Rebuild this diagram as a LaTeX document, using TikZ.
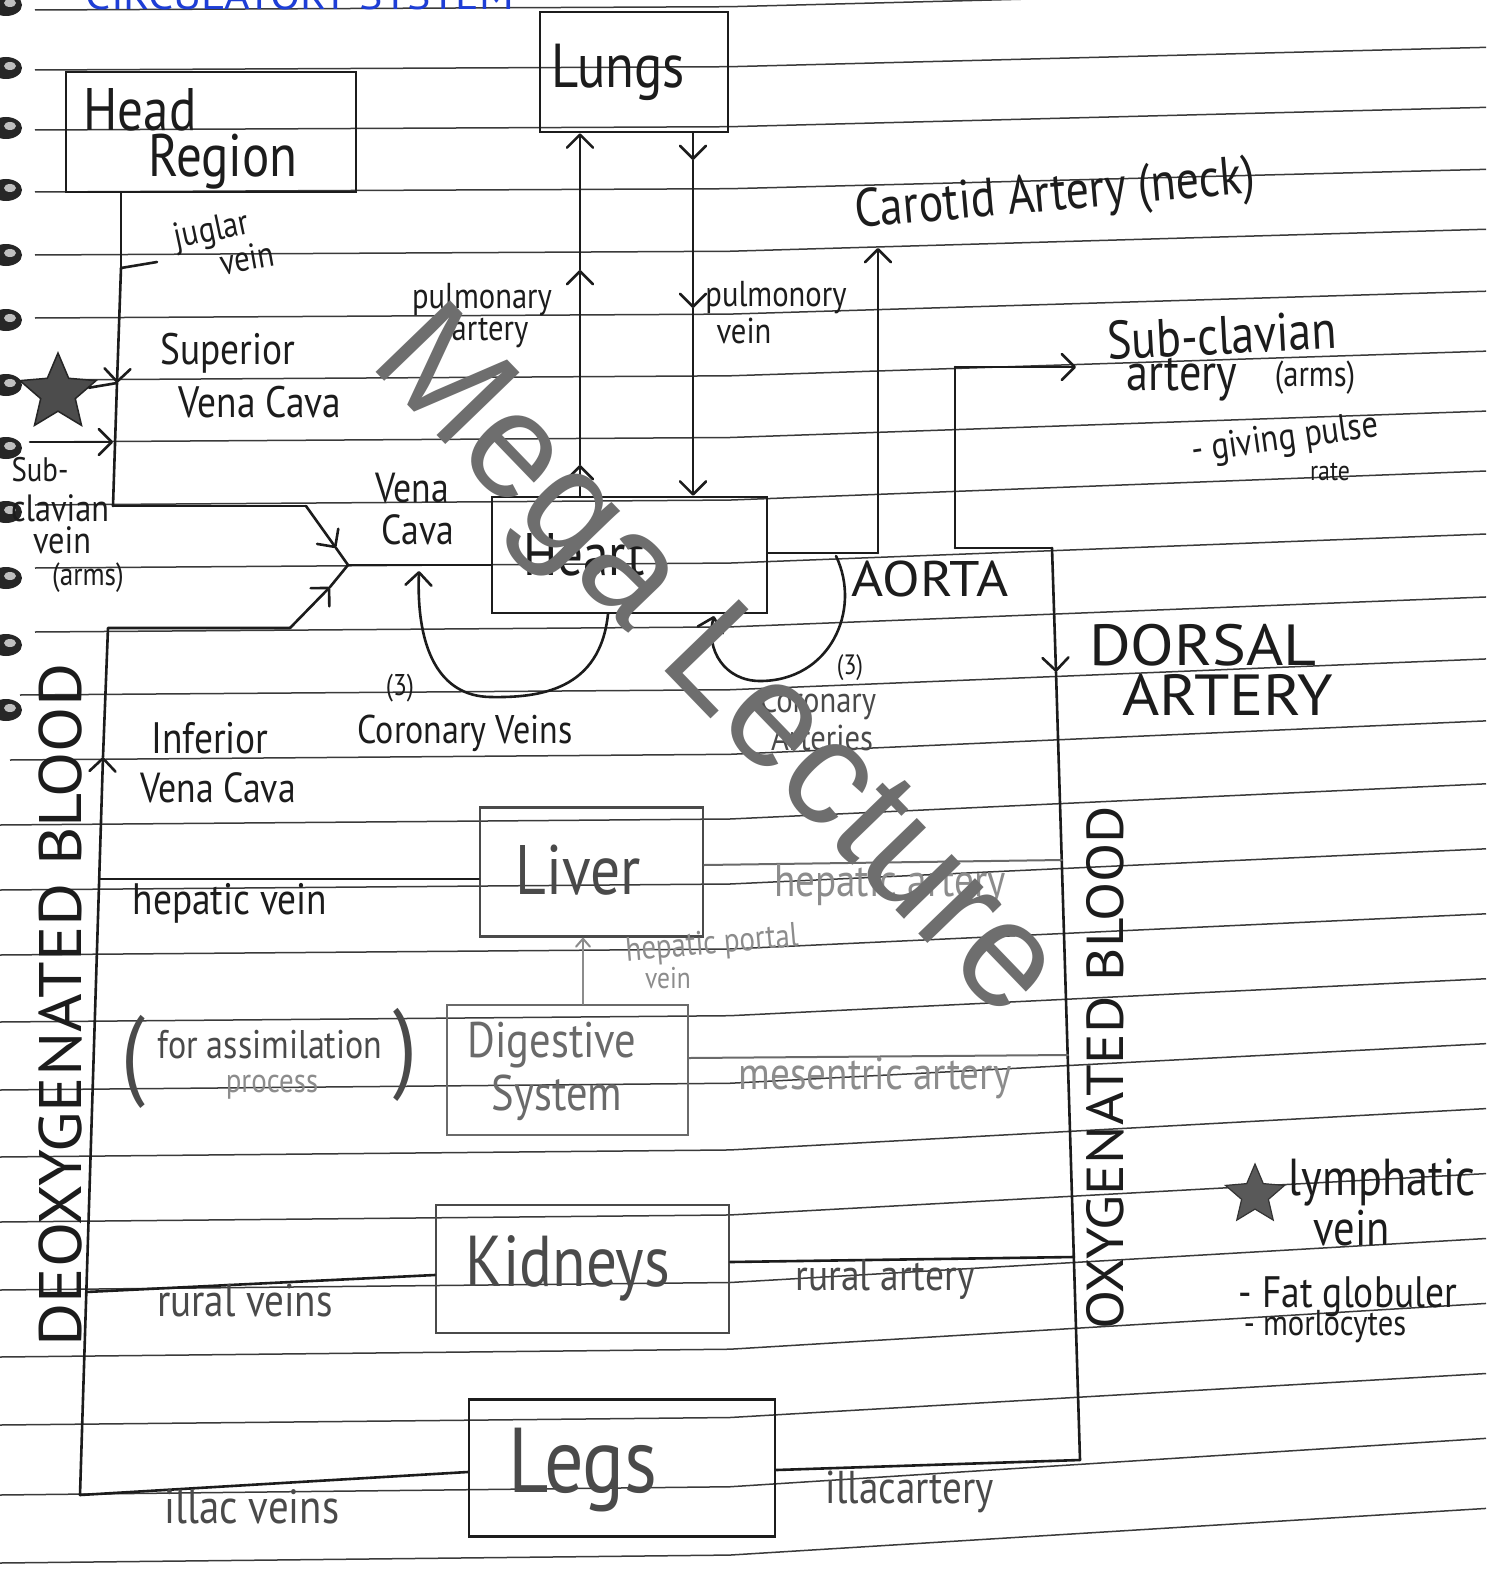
\documentclass[tikz,border=0pt]{standalone}
\usepackage{fontspec}
\setmainfont{PT Sans}[FakeStretch=0.85]
\newfontfamily\capsf{PT Sans}[FakeStretch=1.1]
\newfontfamily\wmf{Liberation Sans}
\usetikzlibrary{arrows.meta,calc,shapes.geometric}
\newcommand{\fsz}[1]{\fontsize{#1}{#1}\selectfont}
\definecolor{inkc}{HTML}{1C1C1C}
\definecolor{pen1}{HTML}{4A4A4A}
\definecolor{pen2}{HTML}{6A6A6A}
\definecolor{pen3}{HTML}{8C8C8C}
\definecolor{rulec}{HTML}{3A3A3A}
\definecolor{titleblue}{HTML}{1E3ED6}
\definecolor{wmark}{HTML}{6E6E6E}
\begin{document}
\begin{tikzpicture}[x=1pt,y=-1pt,
  ink/.style={draw=inkc,line width=2.6pt,line cap=round,line join=round},
  pen/.style={draw=pen2,line width=2pt,line cap=round},
  rule/.style={draw=rulec,line width=1.5pt},
  tip/.style={-{Straight Barb[length=13pt,width=26pt,round]}},
  smalltip/.style={-{Straight Barb[length=8pt,width=14pt,round]}},
  box/.style={draw=inkc,line width=2.6pt,inner sep=0pt},
  pbox/.style={draw=pen1,line width=2.4pt,inner sep=0pt},
  lbl/.style={inner sep=0pt,text=inkc,align=center},
]
\useasboundingbox (0,0) rectangle (1486,1573);
\fill[white] (0,0) rectangle (1486,1573);
\clip (0,0) rectangle (1486,1573);

% ruled notebook lines
\foreach \s/\L/\R in {35/10/-12,35/70/48,35/130/108,35/192/170,35/255/230,35/318/292,35/380/352,35/442/412,35/505/472,35/568/535,35/632/598,20/695/660,10/760/722,0/825/785,0/890/850,0/955/915,0/1022/980,0/1090/1045,0/1157/1110,0/1222/1175,0/1290/1240,0/1357/1305,0/1425/1375,0/1495/1440,0/1563/1510}
  {\draw[rule] (\s,\L) -- (730,{\L-0.15*(\L-\R)}) -- (1486,{\R-0.03*(\L-\R)});}

% spiral binding
\foreach \yy in {5,68,128,190,255,320,385,448,512,578,645,710}
  {\fill[black!85] (6,\yy) ellipse (16pt and 11pt);
   \fill[black!25] (10,{\yy-2}) ellipse (6pt and 4pt);}

% title (cut off at top)
\node[anchor=base,inner sep=0pt,text=titleblue,font=\capsf\fsz{40}] (title) at (300,10) {CIRCULATORY SYSTEM};

% boxes
\node[box,minimum width=188pt,minimum height=120pt] (lungs) at (634,72) {};
\node[box,minimum width=290pt,minimum height=120pt] (head) at (211,132) {};
\node[box,minimum width=275pt,minimum height=116pt] (heart) at (629.5,555) {};
\node[pbox,minimum width=223pt,minimum height=129pt] (liver) at (591.5,872) {};
\node[pbox,draw=pen2,minimum width=241pt,minimum height=130pt] (dig) at (567.5,1070) {};
\node[pbox,minimum width=293pt,minimum height=128pt] (kid) at (582.5,1269) {};
\node[box,minimum width=306pt,minimum height=137pt] (legs) at (622,1468) {};

\node[lbl,font=\fsz{62}] (tLungs) at (618,72) {Lungs};
\node[lbl,font=\fsz{60}] (tHead) at (140,110) {Head};
\node[lbl,font=\fsz{60}] (tRegion) at (223,162) {Region};
\node[lbl,font=\fsz{60}] (tHeart) at (584,555) {Heart};
\node[lbl,text=pen1,font=\fsz{70}] (tLiver) at (578,870) {Liver};
\node[lbl,text=pen2,font=\fsz{50}] (tDig) at (552,1045) {Digestive};
\node[lbl,text=pen2,font=\fsz{50}] (tSys) at (557,1098) {System};
\node[lbl,text=pen1,font=\fsz{72}] (tKid) at (568,1268) {Kidneys};
\node[lbl,text=pen1,font=\fsz{92}] (tLegs) at (583,1470) {Legs};

% pulmonary artery (up) and vein (down)
\coordinate (pa1) at (580,465); \coordinate (pa2) at (580,270);
\draw[ink,tip] (pa1 |- heart.north) -- (pa1);
\draw[ink,tip] (pa1) -- (pa2);
\draw[ink,tip] (pa2) -- (pa2 |- lungs.south);
\coordinate (pv1) at (693,160); \coordinate (pv2) at (693,308);
\draw[ink,tip] (pv1 |- lungs.south) -- (pv1);
\draw[ink,tip] (pv1) -- (pv2);
\draw[ink,tip] (pv2) -- (pv2 |- heart.north);

% superior vena cava system
\coordinate (jv) at (121,268); \coordinate (jvt) at (157,262);
\coordinate (svcA) at (117,383); \coordinate (svcB) at (113,506);
\draw[ink] (head.south -| jv) -- (jv);
\draw[ink] (jv) -- (jvt);
\draw[ink,tip] (jv) -- (svcA);
\draw[ink] (svcA) -- (svcB);
\node[star,star points=5,star point ratio=2.2,fill=black!70,draw=black!85,line width=1.5pt,minimum size=80pt,inner sep=0pt] (star1) at (58,393) {};
\draw[ink] (star1) -- (svcA);
\coordinate (scv) at (30,442);
\draw[ink,tip] (scv) -- (scv -| svcB);

\coordinate (ybr) at (306,506); \coordinate (yj) at (348,565);
\coordinate (ya1) at (336,548); \coordinate (ya2) at (330,587);
\coordinate (ivct) at (290,628); \coordinate (ivcl) at (108,628);
\coordinate (ivcA) at (103,757); \coordinate (ivcB) at (80,1495);
\draw[ink] (svcB) -- (ybr);
\draw[ink,tip] (ybr) -- (ya1); \draw[ink] (ya1) -- (yj);
\draw[ink,tip] (ivct) -- (ya2); \draw[ink] (ya2) -- (yj);
\draw[ink] (yj) -- (yj -| heart.west);
\draw[ink] (ivct) -- (ivcl) -- (ivcA);
\draw[ink,tip] (ivcB) -- (ivcA);

% veins to the organs
\coordinate (hv) at (100,879);
\draw[ink] (hv) -- (hv -| liver.west);
\coordinate (rv) at (86,1292);
\draw[ink] (rv) -- ($(kid.west)+(0,6)$);
\draw[ink] (ivcB) -- ($(legs.west)+(0,4)$);

% aorta system
\coordinate (ao1) at (878,553); \coordinate (ca) at (878,248);
\coordinate (ao2) at (955,548); \coordinate (sc1) at (955,367); \coordinate (sc2) at (1076,367);
\coordinate (rt) at (1052,548); \coordinate (da) at (1056,672); \coordinate (rtb) at (1080,1460);
\coordinate (ha) at (1062,860); \coordinate (me) at (1068,1055); \coordinate (ra) at (1074,1257);
\draw[ink] ($(heart.east)+(0,-2)$) -- (ao1);
\draw[ink,tip] (ao1) -- (ca);
\draw[ink] (ao2) -- (rt);
\draw[ink] (ao2) -- (sc1);
\draw[ink,tip] (sc1) -- (sc2);
\draw[ink,tip] (rt) -- (da);
\draw[ink] (da) -- (rtb);
\draw[pen] ($(liver.east)+(0,-7)$) -- (ha);
\draw[pen] ($(dig.east)+(0,-12)$) -- (me);
\draw[ink] ($(kid.east)+(0,-7)$) -- (ra);
\draw[ink] ($(legs.east)+(0,2)$) -- (rtb);

% hepatic portal vein
\coordinate (hp) at (583,970);
\draw[pen,smalltip,draw=pen3] (hp |- dig.north) -- (hp |- liver.south);

% coronary veins and arteries
\coordinate (cv0) at (608,614); \coordinate (cvt) at (419,571);
\draw[ink,tip] (cv0) .. controls (600,690) and (540,698) .. (490,697) .. controls (440,696) and (416,650) .. (cvt);
\coordinate (ca0) at (836,556); \coordinate (cat) at (714,616);
\draw[ink,tip] (ca0) .. controls (862,610) and (830,681) .. (760,681) .. controls (725,681) and (705,650) .. (cat);

% labels
\node[lbl,font=\fsz{36},rotate=12] (lJug) at (212,232) {juglar};
\node[lbl,font=\fsz{36},rotate=10] (lJugV) at (247,258) {vein};
\node[lbl,font=\fsz{44}] (lSup) at (228,353) {Superior};
\node[lbl,font=\fsz{44}] (lSupV) at (260,402) {Vena Cava};
\node[lbl,font=\fsz{36}] (lPa) at (482,300) {pulmonary};
\node[lbl,font=\fsz{36}] (lPa2) at (490,333) {artery};
\node[lbl,font=\fsz{36}] (lPv) at (776,298) {pulmonory};
\node[lbl,font=\fsz{36}] (lPv2) at (744,331) {vein};
\node[lbl,font=\fsz{54},rotate=5] (lCar) at (1055,197) {Carotid Artery (neck)};
\node[lbl,font=\fsz{54},rotate=3] (lSc) at (1222,335) {Sub-clavian};
\node[lbl,font=\fsz{52}] (lSc2) at (1182,380) {artery};
\node[lbl,font=\fsz{36}] (lSc3) at (1315,378) {(arms)};
\node[lbl,font=\fsz{38},rotate=8] (lPulse) at (1285,440) {- giving pulse};
\node[lbl,font=\fsz{28}] (lRate) at (1330,472) {rate};
\node[lbl,font=\fsz{34}] (lSv1) at (40,470) {Sub-};
\node[lbl,font=\fsz{38}] (lSv2) at (60,508) {clavian};
\node[lbl,font=\fsz{38}] (lSv3) at (62,540) {vein};
\node[lbl,font=\fsz{32}] (lSv4) at (88,578) {(arms)};
\node[lbl,font=\fsz{42}] (lVc1) at (412,488) {Vena};
\node[lbl,font=\fsz{42}] (lVc2) at (418,530) {Cava};
\node[lbl,font=\capsf\fsz{50}] (lAorta) at (930,579) {AORTA};
\node[lbl,font=\capsf\fsz{58}] (lDors) at (1203,645) {DORSAL};
\node[lbl,font=\capsf\fsz{58}] (lDors2) at (1228,695) {ARTERY};
\node[lbl,font=\fsz{30}] (lCv3) at (400,688) {(3)};
\node[lbl,font=\fsz{40}] (lCv) at (465,733) {Coronary Veins};
\node[lbl,font=\fsz{28}] (lCa3) at (850,668) {(3)};
\node[lbl,text=pen1,font=\fsz{36}] (lCa) at (818,703) {Coronary};
\node[lbl,text=pen1,font=\fsz{36}] (lCa2) at (822,738) {Arteries};
\node[lbl,font=\fsz{44}] (lInf) at (210,738) {Inferior};
\node[lbl,font=\fsz{42}] (lInf2) at (218,788) {Vena Cava};
\node[lbl,font=\fsz{44}] (lHv) at (230,903) {hepatic vein};
\node[lbl,text=pen3,font=\fsz{46}] (lHa) at (890,885) {hepatic artery};
\node[lbl,text=pen3,font=\fsz{34},rotate=5] (lHp) at (712,945) {hepatic portal};
\node[lbl,text=pen3,font=\fsz{30}] (lHp2) at (668,978) {vein};
\node[lbl,text=pen1,font=\fsz{100}] (lParL) at (133,1062) {(};
\node[lbl,text=pen1,font=\fsz{40}] (lAss) at (270,1045) {for assimilation};
\node[lbl,text=pen3,font=\fsz{34}] (lProc) at (272,1087) {process};
\node[lbl,text=pen1,font=\fsz{100}] (lParR) at (405,1055) {)};
\node[lbl,text=pen3,font=\fsz{46}] (lMes) at (875,1078) {mesentric artery};
\node[lbl,text=pen1,font=\fsz{46}] (lRv) at (245,1300) {rural veins};
\node[lbl,text=pen1,font=\fsz{44}] (lRa) at (885,1280) {rural artery};
\node[lbl,text=pen1,font=\fsz{48}] (lIv) at (252,1507) {illac veins};
\node[lbl,text=pen1,font=\fsz{46}] (lIa) at (910,1492) {illacartery};
\node[star,star points=5,star point ratio=2.2,fill=black!65,draw=black!80,line width=1.2pt,minimum size=62pt,inner sep=0pt] (star2) at (1255,1195) {};
\node[lbl,font=\fsz{52}] (lLym) at (1382,1182) {lymphatic};
\node[lbl,font=\fsz{50}] (lLym2) at (1352,1228) {vein};
\node[lbl,font=\fsz{44}] (lFat) at (1348,1297) {- Fat globuler};
\node[lbl,font=\fsz{36}] (lMor) at (1325,1327) {- morlocytes};
\node[lbl,font=\capsf\fsz{60},rotate=90] (lDeox) at (60,1005) {DEOXYGENATED BLOOD};
\node[lbl,font=\capsf\fsz{52},rotate=90] (lOx) at (1105,1068) {OXYGENATED BLOOD};

% watermark
\node[inner sep=0pt,text=wmark,font=\wmf\fsz{150},rotate=-46] (wm) at (712,668) {Mega Lecture};
\end{tikzpicture}
\end{document}
